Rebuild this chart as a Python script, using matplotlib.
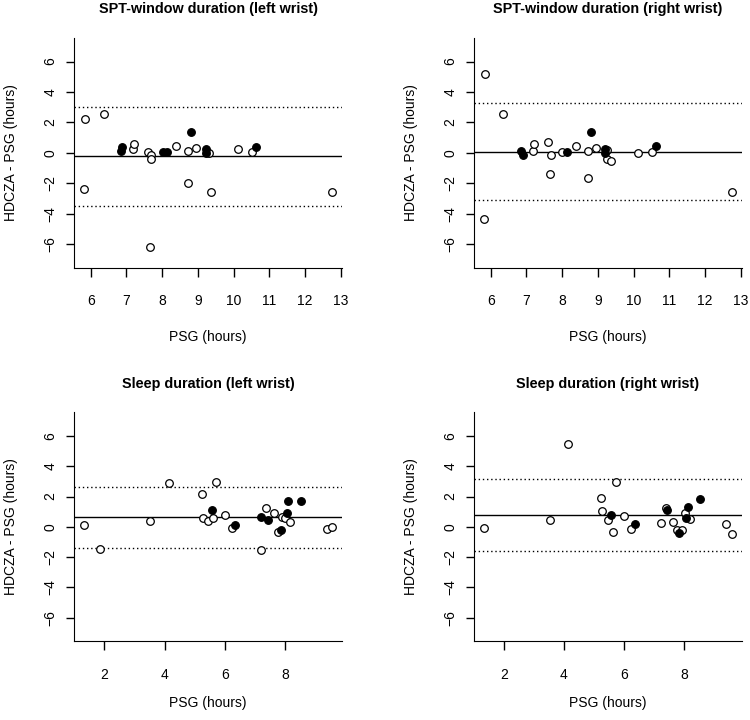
import numpy as np
import matplotlib
matplotlib.use('Agg')
from matplotlib import pyplot as plt

plt.rcParams['font.family'] = ['Liberation Sans', 'DejaVu Sans']

titles = ['SPT-window duration (left wrist)', 'SPT-window duration (right wrist)',
          'Sleep duration (left wrist)', 'Sleep duration (right wrist)']

# SPT-window, left wrist
spt_left_psg = [5.85, 6.36, 5.82, 7.19, 7.21, 7.61, 7.70, 7.68, 7.66, 8.39, 8.73, 8.73, 8.96,
                9.31, 9.36, 10.13, 10.53, 12.75,
                6.85, 6.89, 8.03, 8.14, 8.82, 9.22, 9.22, 10.64]
spt_left_diff = [2.22, 2.57, -2.37, 0.22, 0.57, 0.07, -0.15, -0.41, -6.18, 0.44, 0.11, -2.0, 0.29,
                 -0.04, -2.57, 0.22, 0.05, -2.57,
                 0.11, 0.39, 0.05, 0.05, 1.36, 0.22, -0.04, 0.39]
spt_left_filled = [0] * 18 + [1] * 8

# SPT-window, right wrist
spt_right_psg = [5.85, 5.82, 6.36, 7.18, 7.20, 7.60, 7.68, 7.66, 8.01, 8.38, 8.72, 8.73, 8.96,
                 9.27, 9.27, 9.36, 10.12, 10.53, 12.75,
                 6.84, 6.90, 8.14, 8.82, 9.21, 9.21, 10.64]
spt_right_diff = [5.21, -4.33, 2.57, 0.09, 0.55, 0.72, -0.17, -1.41, 0.05, 0.44, 0.11, -1.65, 0.29,
                  0.18, -0.43, -0.53, -0.04, 0.05, -2.57,
                  0.13, -0.17, 0.05, 1.36, 0.22, 0.0, 0.46]
spt_right_filled = [0] * 19 + [1] * 7

# Sleep duration, left wrist
sleep_left_psg = [1.34, 1.85, 3.53, 4.15, 5.23, 5.26, 5.45, 5.62, 5.71, 5.99, 6.23, 7.21, 7.36,
                  7.61, 7.75, 7.89, 7.99, 8.16, 9.38, 9.54,
                  5.56, 6.33, 7.19, 7.42, 7.85, 8.05, 8.10, 8.51]
sleep_left_diff = [0.15, -1.45, 0.37, 2.9, 2.18, 0.59, 0.37, 0.59, 2.99, 0.79, -0.11, -1.55, 1.23,
                   0.94, -0.31, 0.62, 0.59, 0.33, -0.13, 0.02,
                   1.08, 0.15, 0.68, 0.46, -0.2, 0.9, 1.69, 1.69]
sleep_left_filled = [0] * 20 + [1] * 8

# Sleep duration, right wrist
sleep_right_psg = [1.35, 3.55, 4.15, 5.24, 5.27, 5.46, 5.62, 5.73, 6.0, 6.24, 7.22, 7.38, 7.63,
                   7.77, 7.91, 8.01, 8.2, 9.40, 9.58,
                   5.57, 6.35, 7.43, 7.84, 8.07, 8.13, 8.54]
sleep_right_diff = [-0.07, 0.42, 5.45, 1.89, 1.05, 0.46, -0.31, 2.97, 0.7, -0.15, 0.22, 1.23, 0.31,
                    -0.2, -0.24, 0.9, 0.53, 0.2, -0.48,
                    0.81, 0.18, 1.12, -0.42, 0.57, 1.34, 1.87]
sleep_right_filled = [0] * 19 + [1] * 7

bias = [-0.24, 0.07, 0.63, 0.81]
upper_loa = [2.99, 3.25, 2.66, 3.19]
lower_loa = [-3.49, -3.12, -1.41, -1.6]

x_ticks_top = [6, 7, 8, 9, 10, 11, 12, 13]
x_ticks_bottom = [2, 4, 6, 8]
y_ticks = [-6, -4, -2, 0, 2, 4, 6]

panels = [(spt_left_psg, spt_left_diff, spt_left_filled),
          (spt_right_psg, spt_right_diff, spt_right_filled),
          (sleep_left_psg, sleep_left_diff, sleep_left_filled),
          (sleep_right_psg, sleep_right_diff, sleep_right_filled)]

fig = plt.figure(figsize=(7.5, 7.2), dpi=100)
positions = [[0.0991, 0.6282, 0.3565, 0.3193], [0.6324, 0.6282, 0.3565, 0.3193],
             [0.0991, 0.1093, 0.3565, 0.318], [0.6324, 0.1093, 0.3565, 0.318]]

for i, (psg, diff, filled) in enumerate(panels):
    ax = fig.add_axes(positions[i])
    psg = np.array(psg)
    diff = np.array(diff)
    filled = np.array(filled, dtype=bool)

    ax.scatter(psg[~filled], diff[~filled], s=30, facecolors='white', edgecolors='black',
               linewidths=0.9, zorder=3)
    ax.scatter(psg[filled], diff[filled], s=30, facecolors='black', edgecolors='black',
               linewidths=0.9, zorder=4)
    ax.axhline(bias[i], color='black', lw=1.0, zorder=2)
    ax.axhline(upper_loa[i], color='black', lw=1.0, ls=(0, (1, 2)), zorder=2)
    ax.axhline(lower_loa[i], color='black', lw=1.0, ls=(0, (1, 2)), zorder=2)

    # R style 4% extension of the data range
    r = psg.max() - psg.min()
    ax.set_xlim(psg.min() - 0.04 * r, psg.max() + 0.04 * r)
    ax.set_ylim(-7.56, 7.56)
    ax.set_xticks(x_ticks_top if i < 2 else x_ticks_bottom)
    ax.set_yticks(y_ticks)
    ax.tick_params(axis='y', labelrotation=90, length=6, width=1, pad=6, labelsize=10)
    ax.tick_params(axis='x', length=6.5, width=1, pad=12.5, labelsize=10)
    for lab in ax.get_yticklabels():
        lab.set_verticalalignment('center')
    ax.spines['top'].set_visible(False)
    ax.spines['right'].set_visible(False)
    ax.set_xlabel('PSG (hours)', fontsize=10, labelpad=15.5 if i < 2 else 10)
    ax.set_ylabel('HDCZA - PSG (hours)', fontsize=10, labelpad=18.5)
    ax.set_title(titles[i], fontsize=10.4, fontweight='bold', pad=17.5)

plt.savefig('out.png', dpi=100)
